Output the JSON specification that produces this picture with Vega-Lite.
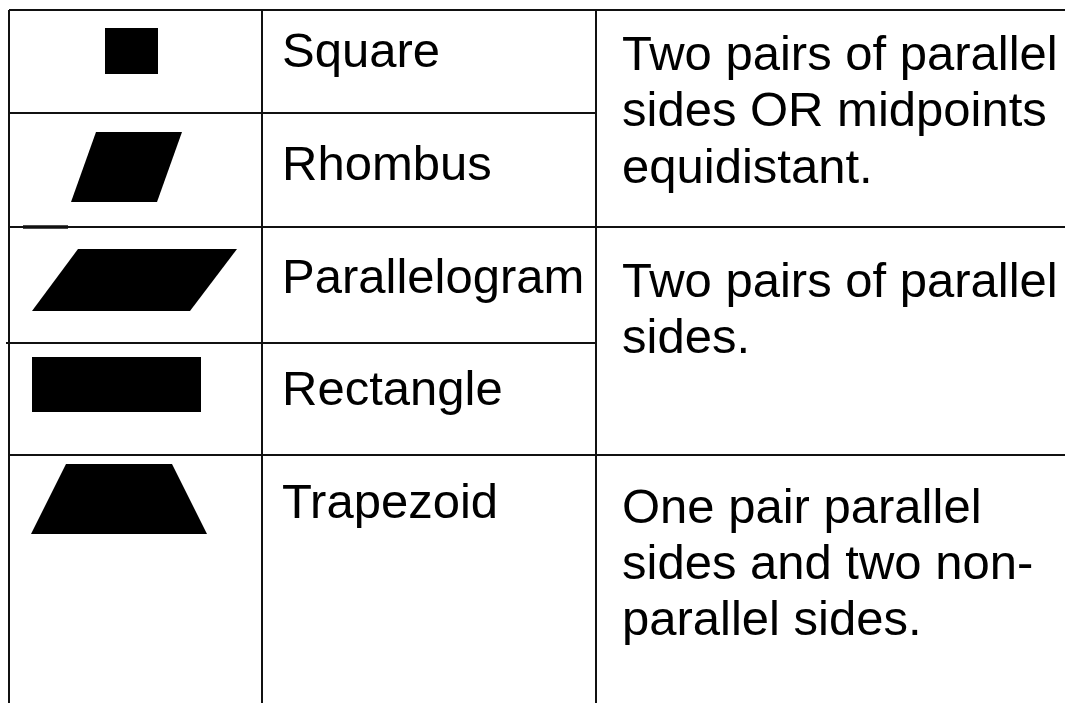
{
  "$schema": "https://vega.github.io/schema/vega-lite/v6.json",
  "width": 1065,
  "height": 703,
  "padding": 0,
  "autosize": {"type": "none"},
  "background": "white",
  "config": {"view": {"stroke": null}},
  "datasets": {
    "rules": [
      {"x1": 9, "x2": 1065, "y1": 10, "y2": 10, "w": 2},
      {"x1": 9, "x2": 9, "y1": 10, "y2": 703, "w": 2},
      {"x1": 262, "x2": 262, "y1": 10, "y2": 703, "w": 2},
      {"x1": 596, "x2": 596, "y1": 10, "y2": 703, "w": 2},
      {"x1": 9, "x2": 596, "y1": 113, "y2": 113, "w": 2},
      {"x1": 9, "x2": 1065, "y1": 227, "y2": 227, "w": 2},
      {"x1": 23, "x2": 68, "y1": 227, "y2": 227, "w": 3.5},
      {"x1": 6, "x2": 596, "y1": 343, "y2": 343, "w": 2},
      {"x1": 9, "x2": 1065, "y1": 455, "y2": 455, "w": 2}
    ],
    "shapes": [
      {"shape": "Square", "y": 28, "xl": 105, "xr": 158},
      {"shape": "Square", "y": 74, "xl": 105, "xr": 158},
      {"shape": "Rhombus", "y": 132, "xl": 96, "xr": 182},
      {"shape": "Rhombus", "y": 202, "xl": 71, "xr": 157},
      {"shape": "Parallelogram", "y": 249, "xl": 78, "xr": 237},
      {"shape": "Parallelogram", "y": 311, "xl": 32, "xr": 190},
      {"shape": "Rectangle", "y": 357, "xl": 32, "xr": 201},
      {"shape": "Rectangle", "y": 412, "xl": 32, "xr": 201},
      {"shape": "Trapezoid", "y": 464, "xl": 66, "xr": 172},
      {"shape": "Trapezoid", "y": 534, "xl": 31, "xr": 207}
    ],
    "texts": [
      {"t": "Square", "x": 282, "y": 67},
      {"t": "Rhombus", "x": 282, "y": 180},
      {"t": "Parallelogram", "x": 282, "y": 293},
      {"t": "Rectangle", "x": 282, "y": 405},
      {"t": "Trapezoid", "x": 282, "y": 518},
      {"t": "Two pairs of parallel", "x": 622, "y": 70},
      {"t": "sides OR midpoints", "x": 622, "y": 126},
      {"t": "equidistant.", "x": 622, "y": 183},
      {"t": "Two pairs of parallel", "x": 622, "y": 297},
      {"t": "sides.", "x": 622, "y": 353},
      {"t": "One pair parallel", "x": 622, "y": 523},
      {"t": "sides and two non-", "x": 622, "y": 579},
      {"t": "parallel sides.", "x": 622, "y": 635}
    ]
  },
  "layer": [
    {
      "data": {"name": "shapes"},
      "mark": {"type": "area", "orient": "horizontal", "color": "black", "interpolate": "linear"},
      "encoding": {
        "y": {"field": "y", "type": "quantitative", "scale": {"domain": [0, 703], "range": [0, 703], "nice": false, "zero": false}, "axis": null},
        "x": {"field": "xl", "type": "quantitative", "stack": null, "scale": {"domain": [0, 1065], "range": [0, 1065], "nice": false, "zero": false}, "axis": null},
        "x2": {"field": "xr"},
        "detail": {"field": "shape"}
      }
    },
    {
      "data": {"name": "rules"},
      "mark": {"type": "rule", "color": "#111111"},
      "encoding": {
        "x": {"field": "x1", "type": "quantitative", "scale": {"domain": [0, 1065], "range": [0, 1065], "nice": false, "zero": false}, "axis": null},
        "x2": {"field": "x2"},
        "y": {"field": "y1", "type": "quantitative", "scale": {"domain": [0, 703], "range": [0, 703], "nice": false, "zero": false}, "axis": null},
        "y2": {"field": "y2"},
        "strokeWidth": {"field": "w", "type": "quantitative", "scale": null, "legend": null}
      }
    },
    {
      "data": {"name": "texts"},
      "mark": {"type": "text", "align": "left", "baseline": "alphabetic", "font": "Liberation Sans", "fontSize": 49, "color": "black"},
      "encoding": {
        "x": {"field": "x", "type": "quantitative", "scale": {"domain": [0, 1065], "range": [0, 1065], "nice": false, "zero": false}, "axis": null},
        "y": {"field": "y", "type": "quantitative", "scale": {"domain": [0, 703], "range": [0, 703], "nice": false, "zero": false}, "axis": null},
        "text": {"field": "t", "type": "nominal"}
      }
    }
  ]
}
